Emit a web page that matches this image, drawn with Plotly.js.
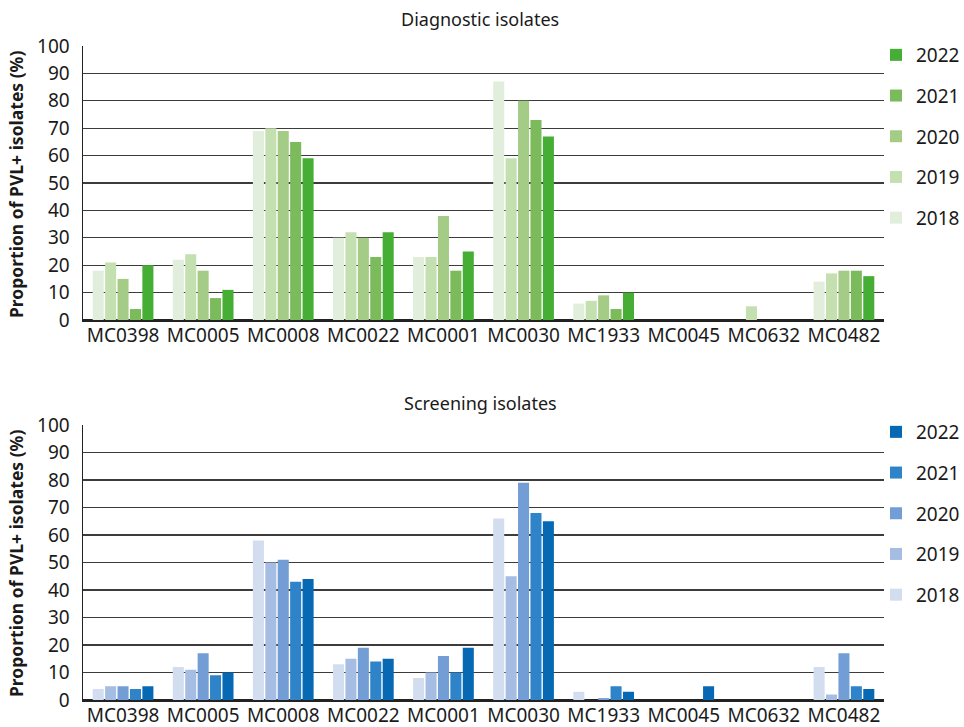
<!DOCTYPE html>
<html>
<head>
<meta charset="utf-8">
<script src="https://cdn.plot.ly/plotly-3.0.1.min.js"></script>
<style>html,body{margin:0;padding:0;background:#fff;}#chart{width:964px;height:727px;}</style>
</head>
<body>
<div id="chart"></div>
<script>
const categories = ["MC0398","MC0005","MC0008","MC0022","MC0001","MC0030","MC1933","MC0045","MC0632","MC0482"];
const years = ["2018","2019","2020","2021","2022"];

// Diagnostic isolates (%)
const diag2018 = [18, 22, 69, 30, 23, 87, 6, 0, 0, 14];
const diag2019 = [21, 24, 70, 32, 23, 59, 7, 0, 5, 17];
const diag2020 = [15, 18, 69, 30, 38, 80, 9, 0, 0, 18];
const diag2021 = [4, 8, 65, 23, 18, 73, 4, 0, 0, 18];
const diag2022 = [20, 11, 59, 32, 25, 67, 10, 0, 0, 16];

// Screening isolates (%)
const scr2018 = [4, 12, 58, 13, 8, 66, 3, 0, 0, 12];
const scr2019 = [5, 11, 50, 15, 10, 45, 0, 0, 0, 2];
const scr2020 = [5, 17, 51, 19, 16, 79, 0.7, 0, 0, 17];
const scr2021 = [4, 9, 43, 14, 10, 68, 5, 0, 0, 5];
const scr2022 = [5, 10, 44, 15, 19, 65, 3, 5, 0, 4];

const yTitle = "Proportion of PVL+ isolates (%)";
const panelTitles = ["Diagnostic isolates", "Screening isolates"];

const diagSeries = [diag2018, diag2019, diag2020, diag2021, diag2022];
const scrSeries = [scr2018, scr2019, scr2020, scr2021, scr2022];
const greens = ["#e1eedb", "#c4dfb0", "#a4cc86", "#7bbb5b", "#46ad35"];
const blues = ["#d3ddf0", "#a6bde3", "#739ed5", "#2f83c8", "#0769b4"];

const FONT = "Noto Sans, Open Sans, DejaVu Sans, sans-serif";
const traces = [];
years.forEach((yr, i) => {
  traces.push({
    type: "bar", x: categories, y: diagSeries[i], name: yr,
    marker: {color: greens[i]}, xaxis: "x", yaxis: "y",
    legend: "legend", legendgroup: "d" + yr, legendrank: 10 - i, hoverinfo: "x+y+name"
  });
});
years.forEach((yr, i) => {
  traces.push({
    type: "bar", x: categories, y: scrSeries[i], name: yr,
    marker: {color: blues[i]}, xaxis: "x2", yaxis: "y2",
    legend: "legend2", legendgroup: "s" + yr, legendrank: 10 - i, hoverinfo: "x+y+name"
  });
});

const H = 727, W = 964;
const xdom = [83 / W, 884 / W];
const yAxisCommon = {
  range: [0, 100], dtick: 10, tick0: 0,
  showgrid: true, gridcolor: "#3c3c3c", gridwidth: 1.3,
  showline: true, linecolor: "#222", linewidth: 1.5,
  zeroline: true, zerolinecolor: "#222", zerolinewidth: 2,
  ticks: "", ticklen: 0, ticklabelstandoff: 8,
  tickfont: {family: FONT, size: 19, color: "#1a1a1a"},
  automargin: false,
  fixedrange: true
};
const xAxisCommon = {
  showgrid: false, showline: true, linecolor: "#222", linewidth: 2,
  ticks: "", ticklabelstandoff: -3, tickfont: {family: FONT, size: 19, color: "#1a1a1a"},
  automargin: false,
  fixedrange: true
};
const legendCommon = {
  x: 876 / W, xanchor: "left", yanchor: "top",
  font: {family: FONT, size: 19, color: "#1a1a1a"},
  traceorder: "grouped", tracegroupgap: 13,
  bgcolor: "rgba(0,0,0,0)", itemwidth: 30
};
const titleFont = {family: FONT, size: 18, color: "#1a1a1a"};
const yTitleFont = {family: FONT, size: 17.5, color: "#1a1a1a"};

const layout = {
  width: W, height: H,
  margin: {l: 0, r: 0, t: 0, b: 0, autoexpand: false},
  paper_bgcolor: "#fff", plot_bgcolor: "#fff",
  barmode: "group", bargap: 0.225, bargroupgap: 0.11,
  xaxis: Object.assign({}, xAxisCommon, {domain: xdom, anchor: "y"}),
  yaxis: Object.assign({}, yAxisCommon, {domain: [1 - 320 / H, 1 - 46 / H], anchor: "x"}),
  xaxis2: Object.assign({}, xAxisCommon, {domain: xdom, anchor: "y2"}),
  yaxis2: Object.assign({}, yAxisCommon, {domain: [1 - 700 / H, 1 - 425 / H], anchor: "x2"}),
  legend: Object.assign({}, legendCommon, {y: 1 - 36 / H}),
  legend2: Object.assign({}, legendCommon, {y: 1 - 413 / H}),
  annotations: [
    {text: panelTitles[0], xref: "paper", yref: "paper", x: 480 / W, y: 1 - 19 / H, xanchor: "center", yanchor: "middle", showarrow: false, font: titleFont},
    {text: panelTitles[1], xref: "paper", yref: "paper", x: 480 / W, y: 1 - 403 / H, xanchor: "center", yanchor: "middle", showarrow: false, font: titleFont},
    {text: "<b>" + yTitle + "</b>", xref: "paper", yref: "paper", x: 16 / W, y: 1 - 185 / H, xanchor: "center", yanchor: "middle", textangle: -90, showarrow: false, font: yTitleFont},
    {text: "<b>" + yTitle + "</b>", xref: "paper", yref: "paper", x: 16 / W, y: 1 - 564 / H, xanchor: "center", yanchor: "middle", textangle: -90, showarrow: false, font: yTitleFont}
  ],
  showlegend: true
};

Plotly.newPlot("chart", traces, layout, {displayModeBar: false, staticPlot: true});
</script>
</body>
</html>
